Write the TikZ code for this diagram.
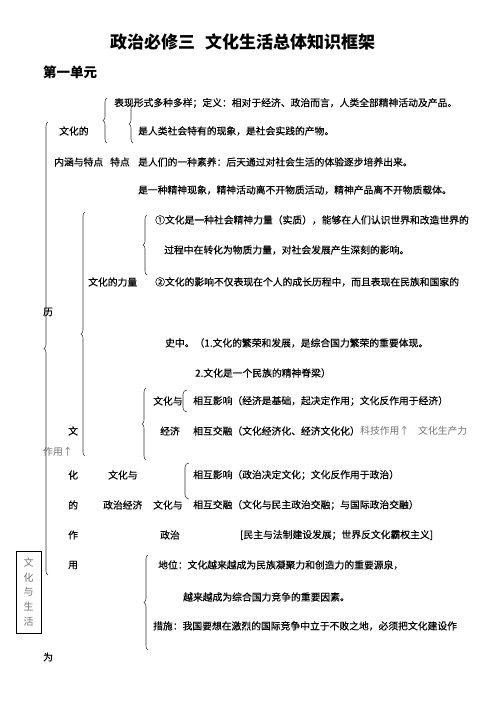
\documentclass[tikz,border=0pt]{standalone}
\usepackage{fontspec}
\newfontfamily\cjk{Noto Sans CJK SC}
\newfontfamily\cjkb[FakeBold=0.35]{Noto Sans CJK SC}
\usetikzlibrary{decorations.pathreplacing}
\begin{document}
\begin{tikzpicture}[x=1pt,y=-1pt,
  t/.style={anchor=west,inner sep=0pt,font=\cjkb\fontsize{9.8}{12}\selectfont},
  g/.style={anchor=west,inner sep=0pt,font=\cjk\fontsize{9.8}{12}\selectfont,text=black!55},
  hd/.style={anchor=west,inner sep=0pt,font=\cjk\bfseries\fontsize{17}{20}\selectfont},
  un/.style={anchor=west,inner sep=0pt,font=\cjk\bfseries\fontsize{13.5}{16}\selectfont},
  br/.style={decorate,decoration={brace,amplitude=4pt},line width=0.55pt,draw=black!80},
  hb/.style={line width=0.55pt,draw=black!80},
  box/.style={draw,line width=0.8pt,minimum width=25pt,minimum height=82pt,inner sep=0pt,
    align=center,text=black!55,font=\cjk\fontsize{10}{14.6}\selectfont}]
\useasboundingbox (0,0) rectangle (500,706);
% title
\node[hd] (ti1) at (110,42) {政治必修三};
\node[hd] (ti2) at (205,42) {文化生活总体知识框架};
\node[un] (unit) at (43,72) {第一单元};
% block 1
\node[t] (a1) at (114,103) {表现形式多种多样；定义：相对于经济、政治而言，人类全部精神活动及产品。};
\node[t] (a0) at (59,131) {文化的};
\node[t] (a2) at (138,131) {是人类社会特有的现象，是社会实践的产物。};
\node[t] (b0) at (54,162) {内涵与特点};
\node[t] (b1) at (110,162) {特点};
\node[t] (b2) at (138,162) {是人们的一种素养：后天通过对社会生活的体验逐步培养出来。};
\node[t] (b3) at (138,190) {是一种精神现象，精神活动离不开物质活动，精神产品离不开物质载体。};
% block 2
\node[t] (c1) at (155,220) {①文化是一种社会精神力量（实质），能够在人们认识世界和改造世界的};
\node[t] (c2) at (164,250) {过程中在转化为物质力量，对社会发展产生深刻的影响。};
\node[t] (c0) at (88,282) {文化的力量};
\node[t] (c3) at (155,282) {②文化的影响不仅表现在个人的成长历程中，而且表现在民族和国家的};
\node[t] (li) at (43,312) {历};
\node[t] (c4) at (165,343) {史中。（1.文化的繁荣和发展，是综合国力繁荣的重要体现。};
\node[t] (c5) at (195,373) {2.文化是一个民族的精神脊梁）};
% block 3
\node[t] (d0) at (153,401) {文化与};
\node[t] (d1) at (193,401) {相互影响（经济是基础，起决定作用；文化反作用于经济）};
\node[t] (wen) at (68,431) {文};
\node[t] (d2) at (160,431) {经济};
\node[t] (d3) at (193,431) {相互交融（文化经济化、经济文化化）};
\node[g] (g1) at (360,431) {科技作用↑};
\node[g] (g2) at (418,431) {文化生产力};
\node[g] (g3) at (43,452) {作用↑};
\node[t] (hua) at (68,475) {化};
\node[t] (e0) at (108,475) {文化与};
\node[t] (e1) at (193,475) {相互影响（政治决定文化；文化反作用于政治）};
\node[t] (de) at (68,505) {的};
\node[t] (e2) at (103,505) {政治经济};
\node[t] (e3) at (153,505) {文化与};
\node[t] (e4) at (193,505) {相互交融（文化与民主政治交融；与国际政治交融）};
\node[t] (zuo) at (68,535) {作};
\node[t] (e5) at (160,535) {政治};
\node[t] (e6) at (240,535) {[民主与法制建设发展；世界反文化霸权主义]};
\node[t] (yong) at (68,565) {用};
\node[t] (f1) at (158,565) {地位：文化越来越成为民族凝聚力和创造力的重要源泉，};
\node[t] (f2) at (183,597) {越来越成为综合国力竞争的重要因素。};
\node[t] (f3) at (153,626) {措施：我国要想在激烈的国际竞争中立于不败之地，必须把文化建设作};
\node[t] (wei) at (43,657) {为};
% side box
\node[box] (sbox) at (28.5,592) {文\\化\\与\\生\\活};
% braces
\draw[br] (107,143) -- (107,98);
\draw[br] (133,143) -- (133,105);
\draw[br] (48,575) -- (48,122);
\draw[br] (85,456) -- (85,212);
\draw[br] (147,275) -- (147,215);
\draw[br] (146,460) -- (146,388);
\draw[br] (148,650) -- (148,555);
% half brackets
\draw[hb] (187,390) to[out=180,in=90] (183,394) -- (183,408) to[out=-90,in=180] (187,412);
\draw[hb] (189,463) to[out=180,in=90] (185,467) -- (185,495) to[out=-90,in=180] (189,499);
\end{tikzpicture}
\end{document}
